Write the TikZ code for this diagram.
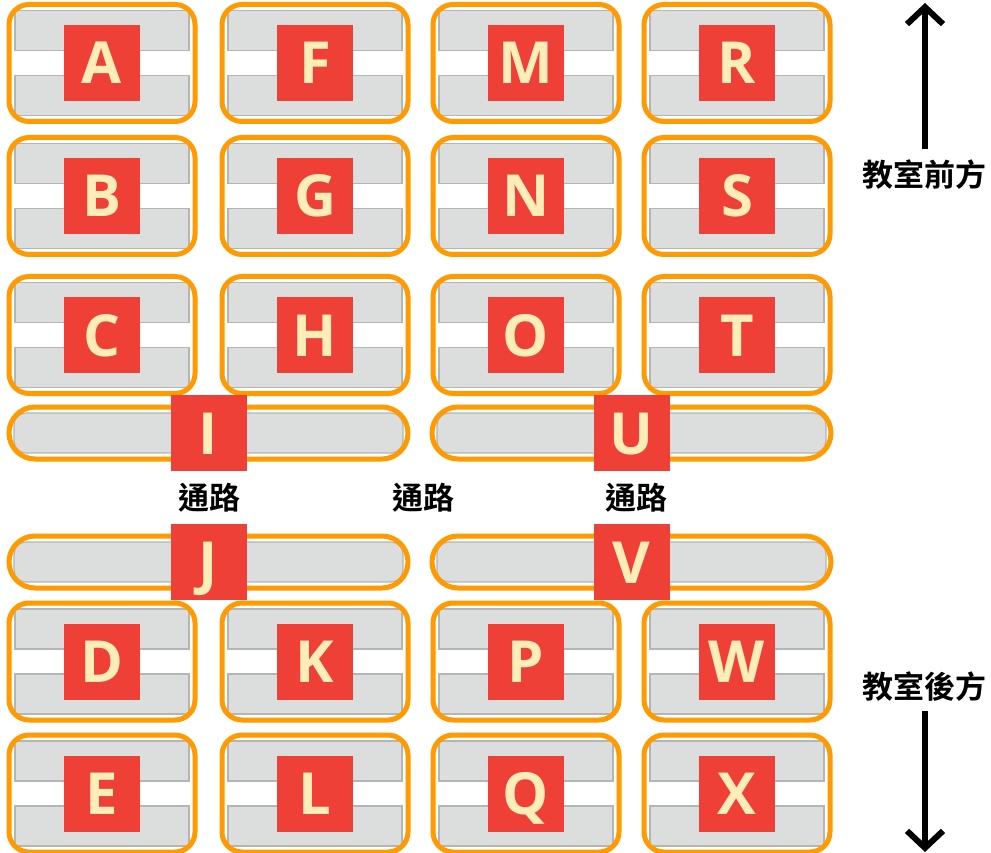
\documentclass[tikz,border=0pt]{standalone}
\usepackage{fontspec}
\usepackage{tikz}
\usetikzlibrary{arrows.meta}
\newfontfamily\tagfont{Open Sans}
\newfontfamily\cjk{Noto Sans CJK TC}[BoldFont={Noto Sans CJK TC Bold}]
\definecolor{deskorange}{HTML}{FF9A00}
\definecolor{barfill}{HTML}{DCDDDD}
\definecolor{bargray}{HTML}{B5B5B5}
\definecolor{tagred}{HTML}{EE4036}
\definecolor{tagcream}{HTML}{FFEDB8}
\tikzset{
	seatbar/.style={fill=barfill,draw=bargray,line width=1.2pt,sharp corners},
	desk/.style={draw=deskorange,fill=white,line width=5pt,rounded corners=20pt,
		minimum width=186pt,minimum height=117pt,inner sep=0pt,
		path picture={
			\path[seatbar] ([xshift=6pt,yshift=-6pt]path picture bounding box.north west) rectangle ([xshift=-6pt,yshift=-46pt]path picture bounding box.north east);
			\path[seatbar] ([xshift=6pt,yshift=6pt]path picture bounding box.south west) rectangle ([xshift=-6pt,yshift=46pt]path picture bounding box.south east);
		}},
	bench/.style={draw=deskorange,fill=white,line width=5pt,rounded corners=26pt,
		minimum width=399pt,minimum height=52pt,inner sep=0pt,
		path picture={
			\path[seatbar,rounded corners=12pt] ([xshift=5pt,yshift=-6pt]path picture bounding box.north west) rectangle ([xshift=-5pt,yshift=6pt]path picture bounding box.south east);
		}},
	tag/.style={fill=tagred,text=tagcream,minimum size=76pt,inner sep=0pt,
		text height=42pt,text depth=0pt,font=\tagfont\bfseries\fontsize{58}{58}\selectfont},
	aisle/.style={font=\cjk\bfseries\fontsize{31}{31}\selectfont,inner sep=0pt},
	dirarrow/.style={line width=6pt,-{Straight Barb[length=17pt,width=36pt]}}
}
\begin{document}
\begin{tikzpicture}[x=1pt,y=-1pt]
		\useasboundingbox (0,0) rectangle (991,853);
		\node[desk] (deskA) at (102,63) {};
		\node[desk] (deskB) at (102,196) {};
		\node[desk] (deskC) at (102,335) {};
		\node[desk] (deskD) at (102,661.5) {};
		\node[desk] (deskE) at (102,793.5) {};
		\node[desk] (deskF) at (315,63) {};
		\node[desk] (deskG) at (315,196) {};
		\node[desk] (deskH) at (315,335) {};
		\node[desk] (deskK) at (315,661.5) {};
		\node[desk] (deskL) at (315,793.5) {};
		\node[desk] (deskM) at (526,63) {};
		\node[desk] (deskN) at (526,196) {};
		\node[desk] (deskO) at (526,335) {};
		\node[desk] (deskP) at (526,661.5) {};
		\node[desk] (deskQ) at (526,793.5) {};
		\node[desk] (deskR) at (737,63) {};
		\node[desk] (deskS) at (737,196) {};
		\node[desk] (deskT) at (737,335) {};
		\node[desk] (deskW) at (737,661.5) {};
		\node[desk] (deskX) at (737,793.5) {};
		\node[bench] (benchI) at (208.5,433) {};
		\node[bench] (benchJ) at (208.5,562) {};
		\node[bench] (benchU) at (631.5,433) {};
		\node[bench] (benchV) at (631.5,562) {};
		\node[tag] (A) at (deskA) {A};
		\node[tag] (B) at (deskB) {B};
		\node[tag] (C) at (deskC) {C};
		\node[tag] (D) at (deskD) {D};
		\node[tag] (E) at (deskE) {E};
		\node[tag] (F) at (deskF) {F};
		\node[tag] (G) at (deskG) {G};
		\node[tag] (H) at (deskH) {H};
		\node[tag] (I) at (benchI) {I};
		\node[tag] (J) at (benchJ) {J};
		\node[tag] (K) at (deskK) {K};
		\node[tag] (L) at (deskL) {L};
		\node[tag] (M) at (deskM) {M};
		\node[tag] (N) at (deskN) {N};
		\node[tag] (O) at (deskO) {O};
		\node[tag] (P) at (deskP) {P};
		\node[tag] (Q) at (deskQ) {Q};
		\node[tag] (R) at (deskR) {R};
		\node[tag] (S) at (deskS) {S};
		\node[tag] (T) at (deskT) {T};
		\node[tag] (U) at (benchU) {U};
		\node[tag] (V) at (benchV) {V};
		\node[tag] (W) at (deskW) {W};
		\node[tag] (X) at (deskX) {X};
		\node[aisle] (aisle1) at (209,498) {通路};
		\node[aisle] (aisle2) at (423,498) {通路};
		\node[aisle] (aisle3) at (636,498) {通路};
		\node[aisle] (front) at (924,175) {教室前方};
		\node[aisle] (back) at (924,687) {教室後方};
		\coordinate (fronttip) at (925,3);
		\coordinate (backtip) at (925,852);
		\draw[dirarrow] ([yshift=11pt]front.north -| fronttip) -- (fronttip);
		\draw[dirarrow] ([yshift=-9pt]back.south -| backtip) -- (backtip);
\end{tikzpicture}
\end{document}
